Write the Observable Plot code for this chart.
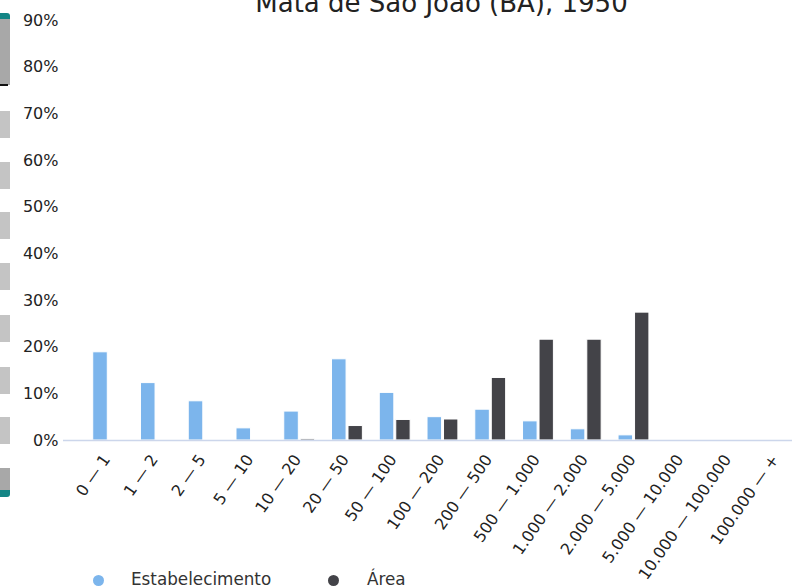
<!DOCTYPE html>
<html>
<head>
<meta charset="utf-8">
<script src="https://cdn.jsdelivr.net/npm/d3@7"></script>
<script src="https://cdn.jsdelivr.net/npm/@observablehq/plot@0.6"></script>
<style>
  html, body { margin: 0; padding: 0; background: #fff; }
  body { width: 792px; height: 587px; overflow: hidden; position: relative; font-family: "DejaVu Sans", sans-serif; }
  #chart { position: absolute; left: 0; top: 0; width: 822px; }
  #chart svg { max-width: none !important; }
  #title { position: absolute; top: -10px; left: 441.5px; transform: translateX(-50%); font-size: 26px; line-height: 26px; color: #222; white-space: nowrap; }
  .sb { position: absolute; left: 0; width: 10px; }
  .leg { position: absolute; font-size: 16.8px; line-height: 17px; color: #333; white-space: nowrap; }
  .dot { position: absolute; width: 11px; height: 11px; border-radius: 50%; }
</style>
</head>
<body>
<div id="chart"></div>
<div id="title">Mata de São João (BA), 1950</div>
<div id="decor"></div>
<div id="legend"></div>
<script>
const categorias = ["0 — 1","1 — 2","2 — 5","5 — 10","10 — 20","20 — 50","50 — 100","100 — 200","200 — 500","500 — 1.000","1.000 — 2.000","2.000 — 5.000","5.000 — 10.000","10.000 — 100.000","100.000 — +"];
const estabelecimento = [18.9, 12.3, 8.4, 2.6, 6.2, 17.4, 10.2, 5.0, 6.6, 4.1, 2.4, 1.1, 0, 0, 0];
const area = [0, 0, 0, 0, 0.3, 3.1, 4.4, 4.5, 13.4, 21.6, 21.6, 27.4, 0, 0, 0];
const yTicks = [0, 10, 20, 30, 40, 50, 60, 70, 80, 90];
const series = ["Estabelecimento", "Área"];
const cores = ["#7cb5ec", "#434348"];

const dadosEst = categorias.map((c, i) => ({categoria: c, valor: estabelecimento[i]})).filter(d => d.valor > 0);
const dadosArea = categorias.map((c, i) => ({categoria: c, valor: area[i]})).filter(d => d.valor > 0);

const plot = Plot.plot({
  width: 822,
  height: 587,
  marginLeft: 63,
  marginRight: 0,
  marginTop: 20,
  marginBottom: 147,
  style: {fontFamily: "DejaVu Sans, sans-serif", fontSize: "16px", color: "#222", background: "transparent", maxWidth: "none"},
  x: {type: "band", domain: categorias, paddingInner: 0, paddingOuter: 0.4466, round: false, axis: null},
  y: {domain: [0, 90], axis: null},
  marks: [
    Plot.axisY({ticks: yTicks, tickSize: 0, tickPadding: 5, tickFormat: d => d + "%", label: null, fontSize: 16}),
    Plot.axisX({tickRotate: -55, tickSize: 0, tickPadding: 16, dx: -2, label: null, fontSize: 16}),
    Plot.barY(dadosEst, {x: "categoria", y: "valor", fill: cores[0], stroke: "#fff", strokeWidth: 1, insetLeft: 8.4, insetRight: 24.8}),
    Plot.barY(dadosArea, {x: "categoria", y: "valor", fill: cores[1], stroke: "#fff", strokeWidth: 1, insetLeft: 24.9, insetRight: 8.5}),
    Plot.ruleY([0], {stroke: "#ccd6eb", strokeWidth: 1.5})
  ]
});
document.getElementById("chart").appendChild(plot);

// legend
const legend = document.getElementById("legend");
const legPos = [{dot: 93, text: 131}, {dot: 328, text: 367}];
series.forEach((s, i) => {
  const d = document.createElement("div");
  d.className = "dot";
  d.style.left = legPos[i].dot + "px";
  d.style.top = "575px";
  d.style.background = cores[i];
  legend.appendChild(d);
  const t = document.createElement("div");
  t.className = "leg";
  t.style.left = legPos[i].text + "px";
  t.style.top = "571px";
  t.textContent = s;
  legend.appendChild(t);
});

// left scrollbar decoration
const decor = document.getElementById("decor");
function piece(top, h, bg, extra) {
  const p = document.createElement("div");
  p.className = "sb";
  p.style.top = top + "px";
  p.style.height = h + "px";
  p.style.background = bg;
  if (extra) Object.assign(p.style, extra);
  decor.appendChild(p);
}
piece(17, 68, "#a8a8a8");
piece(13, 6, "#138585", {borderTopRightRadius: "3px"});
piece(84, 2, "#111", {width: "8px"});
[111, 162, 212, 263, 315, 367, 417].forEach(t => piece(t, 27, "#c4c4c4"));
piece(468, 24, "#a8a8a8");
piece(490, 7, "#138585", {borderBottomRightRadius: "3px"});
</script>
</body>
</html>
